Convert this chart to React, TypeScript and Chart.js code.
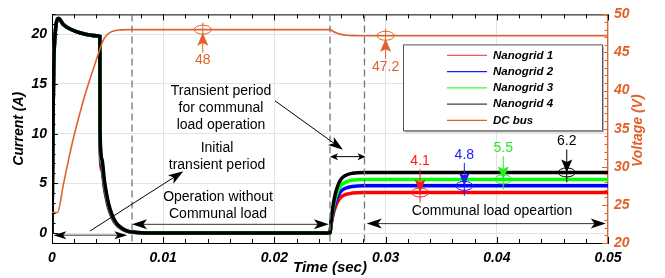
import { useEffect, useRef } from 'react';
import { Chart, registerables } from 'chart.js';

Chart.register(...registerables);

const ORANGE = '#E2612B';
const FONT = 'Liberation Sans';

// ---- axes ----
const xTickValues = [0, 0.01, 0.02, 0.03, 0.04, 0.05];
const xTickLabels = ['0', '0.01', '0.02', '0.03', '0.04', '0.05'];
const currentTickValues = [0, 5, 10, 15, 20];
const currentTickLabels = ['0', '5', '10', '15', '20'];
const voltageTickValues = [20, 25, 30, 35, 40, 45, 50];
const voltageTickLabels = ['20', '25', '30', '35', '40', '45', '50'];

// ---- series ----
const currentTime = [0, 0.0001, 0.0002, 0.0006, 0.001, 0.0015, 0.002, 0.0025, 0.003, 0.0035, 0.004, 0.0043,
  0.00432, 0.0045, 0.0047, 0.0049, 0.0051, 0.0054, 0.0057, 0.006, 0.0064, 0.0068, 0.0073, 0.008, 0.009,
  0.025, 0.0251, 0.0252, 0.0253, 0.0255, 0.0257, 0.026, 0.0264, 0.027, 0.028, 0.05];
const nanogrid1 = [0, 12, 18.5, 21.6, 21.0, 20.6, 20.35, 20.15, 20.0, 19.9, 19.85, 19.8,
  8.76, 6.29, 4.59, 3.4, 2.47, 1.57, 0.98, 0.64, 0.34, 0.17, 0.085, 0.03, 0,
  0, 0.82, 1.43, 1.96, 2.69, 3.18, 3.63, 3.88, 4.02, 4.08, 4.08];
const nanogrid2 = [0, 12, 18.5, 21.6, 21.0, 20.6, 20.35, 20.15, 20.0, 19.9, 19.85, 19.8,
  9.3, 6.66, 4.86, 3.6, 2.61, 1.67, 1.04, 0.68, 0.36, 0.18, 0.09, 0.03, 0,
  0, 0.95, 1.66, 2.28, 3.14, 3.71, 4.23, 4.51, 4.68, 4.75, 4.75];
const nanogrid3 = [0, 12, 18.5, 21.6, 21.0, 20.6, 20.35, 20.15, 20.0, 19.9, 19.85, 19.8,
  9.79, 7.03, 5.13, 3.8, 2.76, 1.76, 1.09, 0.71, 0.38, 0.19, 0.095, 0.03, 0,
  0, 1.08, 1.89, 2.59, 3.56, 4.21, 4.81, 5.13, 5.32, 5.4, 5.4];
const nanogrid4 = [0, 12, 18.5, 21.6, 21.0, 20.6, 20.35, 20.15, 20.0, 19.9, 19.85, 19.8,
  10.3, 7.4, 5.4, 4.0, 2.9, 1.85, 1.15, 0.75, 0.4, 0.2, 0.1, 0.03, 0,
  0, 1.22, 2.14, 2.93, 4.03, 4.76, 5.43, 5.8, 6.01, 6.1, 6.1];
const busTime = [0, 0.0005, 0.001, 0.0015, 0.002, 0.0025, 0.003, 0.0035, 0.004, 0.0043, 0.0046, 0.005, 0.0055,
  0.006, 0.007, 0.025, 0.0253, 0.0256, 0.026, 0.0265, 0.027, 0.028, 0.05];
const busVoltage = [24, 24, 27.5, 31, 34.2, 37, 39.6, 41.9, 44.1, 45.4, 46.6, 47.4, 47.8,
  47.95, 48, 48, 47.75, 47.55, 47.38, 47.27, 47.22, 47.2, 47.2];

const seriesNames = ['Nanogrid 1', 'Nanogrid 2', 'Nanogrid 3', 'Nanogrid 4', 'DC bus'];
const seriesColors = ['#FF0000', '#0000FF', '#00FF00', '#000000', ORANGE];
const legendLineColors = ['#F25A5A', '#1A1AFF', '#33FF33', '#404040', ORANGE];

// ---- annotations ----
const phaseTimes = [0.0072, 0.025, 0.0281];

const calloutLabels = ['48', '47.2', '4.1', '4.8', '5.5', '6.2'];
const calloutTimes = [0.01356, 0.03, 0.0331, 0.03708, 0.04058, 0.04629];
const calloutValues = [48, 47.2, 4.08, 4.75, 5.4, 6.1];
const calloutAxes = ['y2', 'y2', 'y', 'y', 'y', 'y'];
const calloutColors = [ORANGE, ORANGE, '#FF1A1A', '#1A1AFF', '#22EE22', '#000000'];
const calloutBelow = [true, true, false, false, false, false];

const noteLines = [
  ['Transient period', 'for communal', 'load operation'],
  ['Initial', 'transient period'],
  ['Operation without', 'Communal load'],
  ['Communal load opeartion'],
];
const noteTimes = [0.0152, 0.01484, 0.01493, 0.03957];
const noteCurrents = [14.3, 8.58, 3.57, 2.16];

const pointerFromTimes = [0.02005, 0.00342];
const pointerFromCurrents = [13.31, 0.21];
const pointerToTimes = [0.02617, 0.01181];
const pointerToCurrents = [8.38, 6.21];

const spanStartTimes = [0.00012, 0.0072, 0.025, 0.0283];
const spanEndTimes = [0.00677, 0.0249, 0.0282, 0.0498];
const spanCurrents = [-0.21, 0.88, 7.69, 0.95];
const spanHeadLen = [13, 15, 8, 15];
const spanHeadHalf = [4, 5, 3.5, 5];
const spanLineColors = ['#777777', '#333333', '#000000', '#333333'];

function arrowHead(ctx: CanvasRenderingContext2D, tx: number, ty: number, ux: number, uy: number, len: number, hw: number, notch = 0.75) {
  const bx = tx - ux * len, by = ty - uy * len;
  const nx = -uy, ny = ux;
  ctx.beginPath();
  ctx.moveTo(tx, ty);
  ctx.lineTo(bx + nx * hw, by + ny * hw);
  ctx.lineTo(tx - ux * len * notch, ty - uy * len * notch);
  ctx.lineTo(bx - nx * hw, by - ny * hw);
  ctx.closePath();
  ctx.fill();
}

function seg(ctx: CanvasRenderingContext2D, x1: number, y1: number, x2: number, y2: number) {
  ctx.beginPath();
  ctx.moveTo(x1, y1);
  ctx.lineTo(x2, y2);
  ctx.stroke();
}

const decorPlugin = {
  id: 'decor',
  afterDraw(chart: any) {
    const ctx: CanvasRenderingContext2D = chart.ctx;
    const { left, right, top, bottom } = chart.chartArea;
    const xs = chart.scales.x, ys = chart.scales.y, y2 = chart.scales.y2;
    ctx.save();

    // top frame
    ctx.strokeStyle = '#000';
    ctx.lineWidth = 1;
    seg(ctx, left, top + 0.5, right, top + 0.5);

    // inward ticks
    for (let k = 0; k <= 25; k++) {
      const px = Math.round(xs.getPixelForValue(k * 0.002)) + 0.5;
      const len = k % 5 === 0 ? 6 : 4;
      seg(ctx, px, bottom, px, bottom - len);
      seg(ctx, px, top, px, top + len);
    }
    for (let v = -1; v <= 22; v++) {
      const py = Math.round(ys.getPixelForValue(v)) + 0.5;
      const len = v % 5 === 0 ? 6 : 3.5;
      seg(ctx, left, py, left + len, py);
    }
    ctx.strokeStyle = ORANGE;
    for (let v = 20; v <= 50; v++) {
      const py = Math.round(y2.getPixelForValue(v)) + 0.5;
      const len = v % 5 === 0 ? 6 : 3.5;
      seg(ctx, right, py, right - len, py);
    }

    // dashed phase lines
    ctx.strokeStyle = '#777777';
    ctx.lineWidth = 1.3;
    ctx.setLineDash([7, 4]);
    phaseTimes.forEach((t) => {
      const px = xs.getPixelForValue(t);
      seg(ctx, px, top, px, bottom);
    });
    ctx.setLineDash([]);

    // notes
    ctx.fillStyle = '#000';
    ctx.font = `14px "${FONT}"`;
    ctx.textAlign = 'center';
    ctx.textBaseline = 'middle';
    noteLines.forEach((lines, i) => {
      const px = xs.getPixelForValue(noteTimes[i]);
      const py = ys.getPixelForValue(noteCurrents[i]);
      lines.forEach((s, j) => ctx.fillText(s, px, py + j * 17));
    });

    // pointer arrows
    ctx.strokeStyle = '#000';
    ctx.fillStyle = '#000';
    ctx.lineWidth = 1;
    pointerFromTimes.forEach((t, i) => {
      const x1 = xs.getPixelForValue(t), y1 = ys.getPixelForValue(pointerFromCurrents[i]);
      const x2 = xs.getPixelForValue(pointerToTimes[i]), y2p = ys.getPixelForValue(pointerToCurrents[i]);
      const d = Math.hypot(x2 - x1, y2p - y1);
      const ux = (x2 - x1) / d, uy = (y2p - y1) / d;
      seg(ctx, x1, y1, x2 - ux * 8, y2p - uy * 8);
      arrowHead(ctx, x2, y2p, ux, uy, 15, 5);
    });

    // span (double) arrows
    spanStartTimes.forEach((t, i) => {
      const x1 = xs.getPixelForValue(t), x2 = xs.getPixelForValue(spanEndTimes[i]);
      const py = ys.getPixelForValue(spanCurrents[i]);
      ctx.strokeStyle = spanLineColors[i];
      ctx.lineWidth = i === 0 ? 1.5 : 1;
      seg(ctx, x1 + spanHeadLen[i] * 0.6, py, x2 - spanHeadLen[i] * 0.6, py);
      ctx.fillStyle = '#000';
      arrowHead(ctx, x1, py, -1, 0, spanHeadLen[i], spanHeadHalf[i]);
      arrowHead(ctx, x2, py, 1, 0, spanHeadLen[i], spanHeadHalf[i]);
    });

    // callouts
    calloutLabels.forEach((label, i) => {
      const cx = xs.getPixelForValue(calloutTimes[i]);
      const scale = calloutAxes[i] === 'y2' ? y2 : ys;
      const cy = scale.getPixelForValue(calloutValues[i]);
      const dir = calloutBelow[i] ? 1 : -1;
      const ly = cy + dir * 31;
      ctx.strokeStyle = calloutColors[i];
      ctx.fillStyle = calloutColors[i];
      ctx.lineWidth = 1;
      ctx.beginPath();
      ctx.ellipse(cx, cy, 8.5, 4.5, 0, 0, Math.PI * 2);
      ctx.stroke();
      const tipY = calloutBelow[i] ? cy + 3 : cy;
      const startY = ly - dir * 8;
      seg(ctx, cx, startY, cx, tipY - dir * 10);
      arrowHead(ctx, cx, tipY, 0, -dir, 13, 5.5, 0.8);
      ctx.font = `14px "${FONT}"`;
      ctx.textAlign = 'center';
      ctx.textBaseline = 'middle';
      ctx.fillText(label, cx, ly);
    });

    // legend
    const lgLeft = right - 205, lgTop = top + 30, lgW = 199, lgH = 86;
    ctx.fillStyle = '#BBBBBB';
    ctx.fillRect(lgLeft + 2, lgTop + 2, lgW, lgH);
    ctx.fillStyle = '#FFFFFF';
    ctx.fillRect(lgLeft, lgTop, lgW, lgH);
    ctx.strokeStyle = '#555555';
    ctx.lineWidth = 1;
    ctx.strokeRect(lgLeft + 0.5, lgTop + 0.5, lgW, lgH);
    ctx.font = `italic bold 11.5px "${FONT}"`;
    ctx.textAlign = 'left';
    ctx.textBaseline = 'middle';
    seriesNames.forEach((name, i) => {
      const ry = lgTop + 11 + i * 16.25;
      ctx.strokeStyle = legendLineColors[i];
      ctx.lineWidth = 1.3;
      seg(ctx, lgLeft + 44, ry, lgLeft + 84, ry);
      ctx.fillStyle = '#000';
      ctx.fillText(name, lgLeft + 90, ry);
    });

    // right axis title
    ctx.save();
    ctx.translate(638, (top + bottom) / 2 + 2);
    ctx.rotate(-Math.PI / 2);
    ctx.fillStyle = ORANGE;
    ctx.font = `italic bold 14px "${FONT}"`;
    ctx.textAlign = 'center';
    ctx.textBaseline = 'middle';
    ctx.fillText('Voltage (V)', 0, 0);
    ctx.restore();

    ctx.restore();
  },
};

const tickFont = { family: FONT, size: 14, weight: 'bold' as const, style: 'italic' as const };

export default function App() {
  const ref = useRef<HTMLCanvasElement | null>(null);
  useEffect(() => {
    document.body.style.margin = '0';
    if (!ref.current) return;
    const toXY = (ts: number[], vs: number[]) => ts.map((t, i) => ({ x: t, y: vs[i] }));
    const currents = [nanogrid1, nanogrid2, nanogrid3, nanogrid4];
    const datasets: any[] = currents.map((vals, i) => ({
      label: seriesNames[i],
      data: toXY(currentTime, vals),
      borderColor: seriesColors[i],
      backgroundColor: seriesColors[i],
      borderWidth: 3.5,
      pointRadius: 0,
      cubicInterpolationMode: 'monotone',
      yAxisID: 'y',
      order: 4 - i,
    }));
    datasets.push({
      label: seriesNames[4],
      data: toXY(busTime, busVoltage),
      borderColor: ORANGE,
      backgroundColor: ORANGE,
      borderWidth: 1.6,
      pointRadius: 0,
      cubicInterpolationMode: 'monotone',
      yAxisID: 'y2',
      order: 0,
    });

    const chart = new Chart(ref.current, {
      type: 'line',
      data: { datasets },
      options: {
        animation: false,
        responsive: false,
        maintainAspectRatio: false,
        devicePixelRatio: 1,
        layout: { padding: { top: 10, left: 0, right: 0, bottom: 0 } },
        plugins: { legend: { display: false }, tooltip: { enabled: false } },
        scales: {
          x: {
            type: 'linear',
            min: 0,
            max: 0.05,
            afterBuildTicks: (s: any) => { s.ticks = xTickValues.map((v) => ({ value: v })); },
            afterFit: (s: any) => { s.height = 35; },
            ticks: {
              color: '#000',
              font: tickFont,
              padding: 7,
              maxRotation: 0,
              autoSkip: false,
              callback: (_v: any, i: number) => xTickLabels[i],
            },
            grid: { color: '#E3E3E3', lineWidth: 1, drawTicks: false },
            border: { color: '#000', width: 1 },
            title: {
              display: true,
              text: 'Time (sec)',
              color: '#000',
              font: { family: FONT, size: 15, weight: 'bold', style: 'italic' },
              padding: { top: 0, bottom: 1 },
            },
          },
          y: {
            type: 'linear',
            position: 'left',
            min: -1,
            max: 22,
            afterBuildTicks: (s: any) => { s.ticks = currentTickValues.map((v) => ({ value: v })); },
            afterFit: (s: any) => { s.width = 52; },
            ticks: {
              color: '#000',
              font: tickFont,
              padding: 5,
              autoSkip: false,
              callback: (_v: any, i: number) => currentTickLabels[i],
            },
            grid: { color: '#E3E3E3', lineWidth: 1, drawTicks: false },
            border: { color: '#000', width: 1 },
            title: {
              display: true,
              text: 'Current (A)',
              color: '#000',
              font: { family: FONT, size: 14, weight: 'bold', style: 'italic' },
              padding: { top: 11, bottom: 0 },
            },
          },
          y2: {
            type: 'linear',
            position: 'right',
            min: 20,
            max: 50,
            afterBuildTicks: (s: any) => { s.ticks = voltageTickValues.map((v) => ({ value: v })); },
            afterFit: (s: any) => { s.width = 57; },
            ticks: {
              color: ORANGE,
              font: tickFont,
              padding: 6,
              autoSkip: false,
              callback: (_v: any, i: number) => voltageTickLabels[i],
            },
            grid: { display: false, drawTicks: false },
            border: { color: ORANGE, width: 1.2 },
          },
        },
      },
      plugins: [decorPlugin],
    });
    return () => chart.destroy();
  }, []);

  return (
    <div style={{ width: 665, height: 278 }}>
      <canvas ref={ref} width={665} height={278} />
    </div>
  );
}
